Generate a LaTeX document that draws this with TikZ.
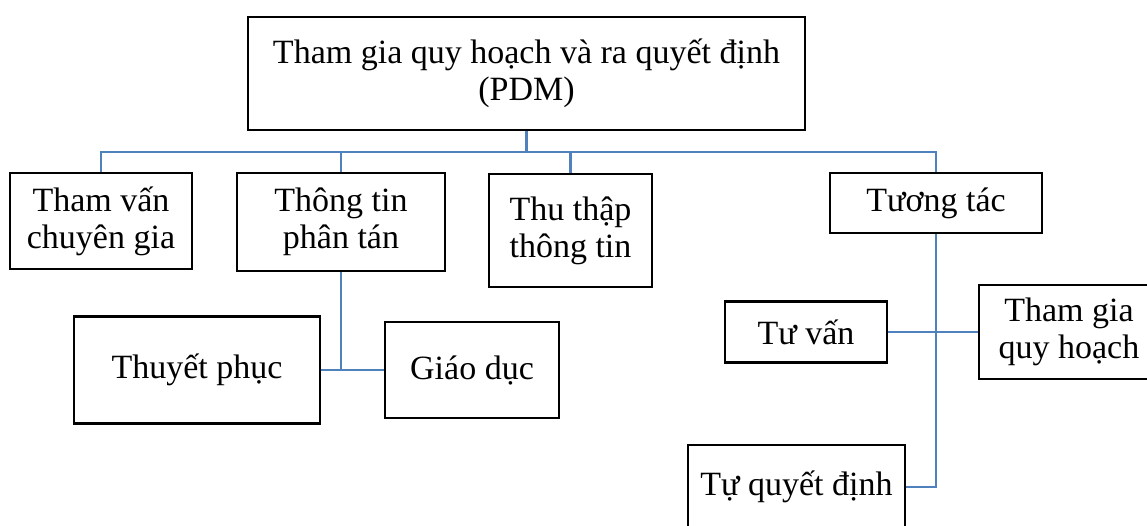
\documentclass[tikz,border=0pt]{standalone}
\usepackage{fontspec}
\setmainfont{Liberation Serif}
\begin{document}
\begin{tikzpicture}[x=1pt,y=-1pt,
  box/.style={draw=black,line width=2.8pt,inner sep=0pt,align=center,
    font=\fontsize{34}{37}\selectfont},
  conn/.style={draw={rgb,255:red,79;green,129;blue,189},line width=2.6pt}]
\clip (0,0) rectangle (1147,525);
\useasboundingbox (0,0) rectangle (1147,525);
\fill[white] (0,0) rectangle (1147,525);
\node[box,minimum width=557pt,minimum height=113pt] (top) at (526.5,73.5) {Tham gia quy hoạch và ra quyết định\\(PDM)};
\node[box,minimum width=182pt,minimum height=96pt] (tv) at (101,221) {Tham vấn\\chuyên gia};
\node[box,minimum width=208pt,minimum height=98pt] (tt) at (341,222) {Thông tin\\phân tán};
\node[box,minimum width=163pt,minimum height=113pt] (th) at (570.5,230.5) {Thu thập\\thông tin};
\node[box,minimum width=212pt,minimum height=60pt] (tuong) at (936,203) {Tương tác};
\node[box,minimum width=246pt,minimum height=107pt] (tp) at (197,370) {Thuyết phục};
\node[box,minimum width=174pt,minimum height=96pt] (gd) at (472,370) {Giáo dục};
\node[box,minimum width=162pt,minimum height=61pt] (tvan) at (806,332) {Tư vấn};
\node[box,minimum width=180pt,minimum height=94pt] (tgqh) at (1069,332) {Tham gia\\quy hoạch};
\node[box,minimum width=217pt,minimum height=84pt] (tqd) at (796.5,487) {Tự quyết định};
\coordinate (bus) at (0,152);
\draw[conn] (tv.north) -- (tv.north |- bus) -- (tuong.north |- bus) -- (tuong.north);
\draw[conn] (top.south) -- (top.south |- bus);
\draw[conn] (tt.north) -- (tt.north |- bus);
\draw[conn] (th.north) -- (th.north |- bus);
\draw[conn] (tt.south) -- (tt.south |- tp.east);
\draw[conn] (tp.east) -- (gd.west);
\draw[conn] (tuong.south) |- (tqd.east);
\draw[conn] (tvan.east) -- (tgqh.west);
\end{tikzpicture}
\end{document}
